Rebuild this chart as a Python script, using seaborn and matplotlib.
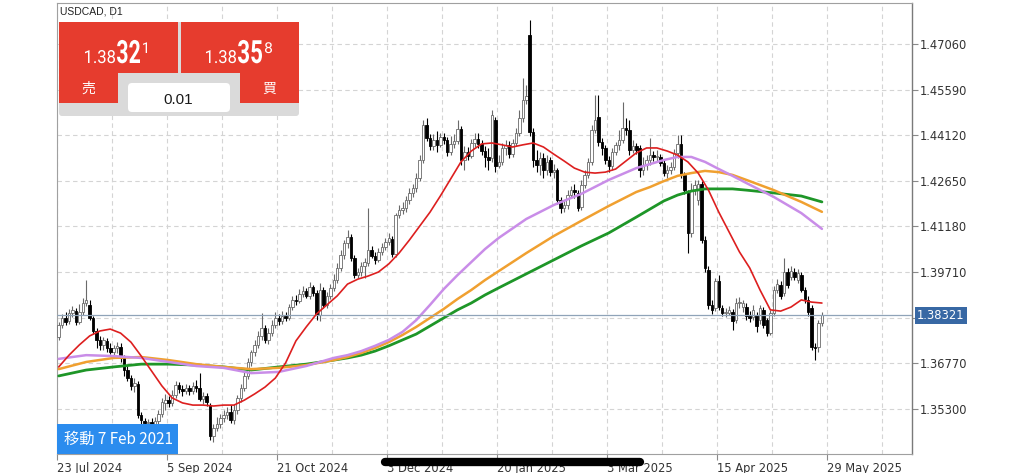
import numpy as np
import matplotlib
matplotlib.use("Agg")
import matplotlib.pyplot as plt
import seaborn as sns
from matplotlib.patches import Polygon, FancyBboxPatch, Rectangle, PathPatch
from matplotlib.textpath import TextPath
from matplotlib.font_manager import FontProperties
from matplotlib.transforms import Affine2D
from matplotlib.lines import Line2D

# ---------------- data (USDCAD daily) ----------------
opens = [
    1.3761, 1.3800, 1.3823, 1.3813, 1.3839, 1.3845, 1.3810, 1.3842, 1.3871, 1.3865,
    1.3823, 1.3781, 1.3752, 1.3736, 1.3749, 1.3726, 1.3713, 1.3726, 1.3729, 1.3694,
    1.3655, 1.3629, 1.3604, 1.3610, 1.3510, 1.3491, 1.3484, 1.3487, 1.3481, 1.3491,
    1.3513, 1.3549, 1.3558, 1.3549, 1.3575, 1.3607, 1.3594, 1.3587, 1.3597, 1.3587,
    1.3604, 1.3597, 1.3562, 1.3571, 1.3542, 1.3442, 1.3468, 1.3481, 1.3500, 1.3510,
    1.3520, 1.3494, 1.3526, 1.3565, 1.3597, 1.3636, 1.3681, 1.3713, 1.3736, 1.3765,
    1.3790, 1.3752, 1.3774, 1.3800, 1.3823, 1.3813, 1.3829, 1.3823, 1.3858, 1.3881,
    1.3878, 1.3900, 1.3910, 1.3894, 1.3923, 1.3903, 1.3832, 1.3913, 1.3865, 1.3894,
    1.3920, 1.3945, 1.3984, 1.4026, 1.4065, 1.4084, 1.4016, 1.3961, 1.3971, 1.3990,
    1.4000, 1.4042, 1.4023, 1.4010, 1.4036, 1.4052, 1.4068, 1.4077, 1.4029, 1.4155,
    1.4171, 1.4177, 1.4203, 1.4226, 1.4242, 1.4274, 1.4332, 1.4445, 1.4403, 1.4377,
    1.4397, 1.4381, 1.4406, 1.4397, 1.4358, 1.4384, 1.4393, 1.4432, 1.4332, 1.4358,
    1.4345, 1.4387, 1.4400, 1.4384, 1.4361, 1.4342, 1.4339, 1.4461, 1.4313, 1.4326,
    1.4371, 1.4381, 1.4351, 1.4387, 1.4419, 1.4468, 1.4526, 1.4735, 1.4422, 1.4332,
    1.4316, 1.4339, 1.4300, 1.4332, 1.4293, 1.4300, 1.4203, 1.4177, 1.4187, 1.4219,
    1.4235, 1.4226, 1.4181, 1.4252, 1.4284, 1.4326, 1.4429, 1.4471, 1.4390, 1.4371,
    1.4332, 1.4313, 1.4358, 1.4381, 1.4397, 1.4435, 1.4429, 1.4364, 1.4377, 1.4371,
    1.4300, 1.4316, 1.4332, 1.4348, 1.4342, 1.4342, 1.4323, 1.4290, 1.4300, 1.4310,
    1.4355, 1.4384, 1.4284, 1.4226, 1.4097, 1.4235, 1.4203, 1.4255, 1.4074, 1.3978,
    1.3865, 1.3855, 1.3942, 1.3855, 1.3839, 1.3839, 1.3842, 1.3816, 1.3871, 1.3858,
    1.3858, 1.3829, 1.3826, 1.3832, 1.3816, 1.3849, 1.3816, 1.3774, 1.3839, 1.3913,
    1.3929, 1.3903, 1.3971, 1.3955, 1.3971, 1.3945, 1.3961, 1.3913, 1.3881, 1.3855,
    1.3729, 1.3729, 1.3807,
]
highs = [
    1.3810, 1.3836, 1.3842, 1.3852, 1.3861, 1.3855, 1.3868, 1.3887, 1.3945, 1.3881,
    1.3829, 1.3790, 1.3765, 1.3761, 1.3758, 1.3742, 1.3736, 1.3745, 1.3742, 1.3703,
    1.3668, 1.3639, 1.3629, 1.3620, 1.3520, 1.3500, 1.3497, 1.3500, 1.3504, 1.3526,
    1.3565, 1.3578, 1.3571, 1.3591, 1.3620, 1.3616, 1.3607, 1.3610, 1.3607, 1.3616,
    1.3623, 1.3645, 1.3584, 1.3581, 1.3549, 1.3481, 1.3504, 1.3513, 1.3526, 1.3536,
    1.3542, 1.3546, 1.3575, 1.3610, 1.3649, 1.3694, 1.3720, 1.3752, 1.3781, 1.3839,
    1.3800, 1.3790, 1.3816, 1.3842, 1.3836, 1.3845, 1.3842, 1.3868, 1.3894, 1.3897,
    1.3916, 1.3926, 1.3920, 1.3939, 1.3929, 1.3913, 1.3936, 1.3923, 1.3907, 1.3932,
    1.3965, 1.4000, 1.4042, 1.4074, 1.4106, 1.4094, 1.4026, 1.3984, 1.4003, 1.4016,
    1.4177, 1.4055, 1.4036, 1.4048, 1.4065, 1.4081, 1.4097, 1.4087, 1.4161, 1.4187,
    1.4197, 1.4216, 1.4242, 1.4255, 1.4290, 1.4348, 1.4461, 1.4468, 1.4416, 1.4416,
    1.4426, 1.4419, 1.4419, 1.4406, 1.4410, 1.4416, 1.4461, 1.4442, 1.4377, 1.4374,
    1.4400, 1.4419, 1.4419, 1.4397, 1.4377, 1.4371, 1.4493, 1.4471, 1.4348, 1.4387,
    1.4397, 1.4393, 1.4400, 1.4435, 1.4493, 1.4597, 1.4574, 1.4784, 1.4435, 1.4364,
    1.4358, 1.4355, 1.4348, 1.4342, 1.4319, 1.4306, 1.4213, 1.4203, 1.4235, 1.4248,
    1.4255, 1.4235, 1.4268, 1.4300, 1.4339, 1.4445, 1.4542, 1.4542, 1.4403, 1.4381,
    1.4345, 1.4371, 1.4390, 1.4429, 1.4519, 1.4468, 1.4461, 1.4397, 1.4387, 1.4381,
    1.4342, 1.4348, 1.4403, 1.4361, 1.4364, 1.4351, 1.4332, 1.4316, 1.4326, 1.4368,
    1.4413, 1.4413, 1.4293, 1.4235, 1.4258, 1.4268, 1.4268, 1.4264, 1.4087, 1.3990,
    1.3881, 1.3952, 1.3961, 1.3865, 1.3855, 1.3861, 1.3852, 1.3887, 1.3890, 1.3881,
    1.3871, 1.3845, 1.3865, 1.3842, 1.3865, 1.3858, 1.3823, 1.3849, 1.3926, 1.3948,
    1.3942, 1.4016, 1.3984, 1.3990, 1.3984, 1.3981, 1.3971, 1.3923, 1.3894, 1.3865,
    1.3742, 1.3816, 1.3842,
]
lows = [
    1.3752, 1.3790, 1.3800, 1.3803, 1.3826, 1.3800, 1.3803, 1.3832, 1.3861, 1.3816,
    1.3771, 1.3726, 1.3720, 1.3720, 1.3713, 1.3707, 1.3700, 1.3710, 1.3681, 1.3636,
    1.3620, 1.3591, 1.3584, 1.3500, 1.3481, 1.3468, 1.3468, 1.3462, 1.3468, 1.3475,
    1.3504, 1.3526, 1.3536, 1.3539, 1.3565, 1.3581, 1.3571, 1.3578, 1.3575, 1.3578,
    1.3584, 1.3555, 1.3546, 1.3539, 1.3429, 1.3423, 1.3459, 1.3468, 1.3487, 1.3497,
    1.3484, 1.3481, 1.3513, 1.3552, 1.3587, 1.3626, 1.3668, 1.3700, 1.3726, 1.3752,
    1.3742, 1.3739, 1.3765, 1.3790, 1.3800, 1.3803, 1.3813, 1.3816, 1.3849, 1.3865,
    1.3871, 1.3890, 1.3887, 1.3884, 1.3894, 1.3816, 1.3813, 1.3855, 1.3855, 1.3884,
    1.3910, 1.3936, 1.3974, 1.4013, 1.4048, 1.4006, 1.3952, 1.3952, 1.3958, 1.3952,
    1.3990, 1.4016, 1.3997, 1.4003, 1.4026, 1.4042, 1.4058, 1.4019, 1.4019, 1.4145,
    1.4158, 1.4164, 1.4190, 1.4213, 1.4229, 1.4264, 1.4323, 1.4393, 1.4364, 1.4364,
    1.4358, 1.4374, 1.4384, 1.4345, 1.4348, 1.4371, 1.4384, 1.4316, 1.4300, 1.4332,
    1.4339, 1.4374, 1.4371, 1.4348, 1.4310, 1.4300, 1.4326, 1.4293, 1.4306, 1.4316,
    1.4348, 1.4339, 1.4342, 1.4377, 1.4410, 1.4455, 1.4513, 1.4410, 1.4310, 1.4293,
    1.4284, 1.4274, 1.4284, 1.4281, 1.4274, 1.4190, 1.4161, 1.4164, 1.4174, 1.4210,
    1.4210, 1.4168, 1.4171, 1.4242, 1.4274, 1.4316, 1.4419, 1.4377, 1.4348, 1.4319,
    1.4293, 1.4300, 1.4348, 1.4364, 1.4387, 1.4413, 1.4348, 1.4355, 1.4351, 1.4277,
    1.4284, 1.4300, 1.4316, 1.4329, 1.4329, 1.4313, 1.4281, 1.4274, 1.4287, 1.4300,
    1.4339, 1.4274, 1.4223, 1.4032, 1.4084, 1.4219, 1.4187, 1.4065, 1.3971, 1.3852,
    1.3836, 1.3845, 1.3849, 1.3829, 1.3826, 1.3832, 1.3784, 1.3807, 1.3855, 1.3842,
    1.3816, 1.3810, 1.3816, 1.3778, 1.3803, 1.3790, 1.3765, 1.3768, 1.3829, 1.3903,
    1.3884, 1.3894, 1.3920, 1.3945, 1.3945, 1.3936, 1.3907, 1.3871, 1.3829, 1.3720,
    1.3687, 1.3713, 1.3797,
]
closes = [
    1.3800, 1.3823, 1.3810, 1.3839, 1.3849, 1.3810, 1.3842, 1.3871, 1.3881, 1.3823,
    1.3781, 1.3752, 1.3736, 1.3752, 1.3726, 1.3713, 1.3726, 1.3733, 1.3694, 1.3655,
    1.3629, 1.3604, 1.3613, 1.3510, 1.3494, 1.3484, 1.3487, 1.3481, 1.3491, 1.3513,
    1.3552, 1.3558, 1.3549, 1.3575, 1.3607, 1.3594, 1.3587, 1.3597, 1.3587, 1.3604,
    1.3597, 1.3562, 1.3571, 1.3552, 1.3442, 1.3468, 1.3481, 1.3500, 1.3510, 1.3520,
    1.3494, 1.3526, 1.3565, 1.3597, 1.3636, 1.3681, 1.3713, 1.3736, 1.3765, 1.3790,
    1.3752, 1.3774, 1.3800, 1.3823, 1.3813, 1.3829, 1.3823, 1.3858, 1.3881, 1.3878,
    1.3900, 1.3910, 1.3894, 1.3923, 1.3903, 1.3832, 1.3913, 1.3865, 1.3894, 1.3920,
    1.3945, 1.3984, 1.4026, 1.4065, 1.4084, 1.4016, 1.3961, 1.3971, 1.3990, 1.4003,
    1.4042, 1.4023, 1.4010, 1.4036, 1.4052, 1.4068, 1.4081, 1.4029, 1.4155, 1.4171,
    1.4177, 1.4203, 1.4226, 1.4242, 1.4274, 1.4332, 1.4445, 1.4403, 1.4377, 1.4397,
    1.4381, 1.4406, 1.4397, 1.4358, 1.4384, 1.4393, 1.4432, 1.4332, 1.4358, 1.4345,
    1.4387, 1.4400, 1.4384, 1.4361, 1.4342, 1.4332, 1.4477, 1.4313, 1.4326, 1.4371,
    1.4381, 1.4351, 1.4387, 1.4419, 1.4468, 1.4526, 1.4538, 1.4422, 1.4332, 1.4316,
    1.4339, 1.4300, 1.4326, 1.4293, 1.4300, 1.4203, 1.4177, 1.4187, 1.4219, 1.4235,
    1.4229, 1.4177, 1.4252, 1.4284, 1.4326, 1.4429, 1.4461, 1.4390, 1.4371, 1.4332,
    1.4313, 1.4358, 1.4381, 1.4397, 1.4435, 1.4429, 1.4364, 1.4377, 1.4364, 1.4300,
    1.4316, 1.4332, 1.4348, 1.4342, 1.4345, 1.4323, 1.4290, 1.4300, 1.4310, 1.4355,
    1.4384, 1.4284, 1.4235, 1.4097, 1.4235, 1.4252, 1.4255, 1.4074, 1.3984, 1.3865,
    1.3849, 1.3942, 1.3858, 1.3839, 1.3842, 1.3849, 1.3813, 1.3871, 1.3874, 1.3871,
    1.3829, 1.3823, 1.3849, 1.3797, 1.3855, 1.3800, 1.3774, 1.3839, 1.3913, 1.3932,
    1.3894, 1.3971, 1.3929, 1.3974, 1.3955, 1.3968, 1.3913, 1.3884, 1.3842, 1.3729,
    1.3726, 1.3807, 1.38321,
]

# moving averages
ma_red_bars = list(range(0, 223, 3))
ma_red = [
    1.3665, 1.3703, 1.3736, 1.3765, 1.3781, 1.3787, 1.3774, 1.3745, 1.3700, 1.3652,
    1.3604, 1.3565, 1.3549, 1.3542, 1.3542, 1.3539, 1.3542, 1.3542, 1.3558, 1.3578,
    1.3600, 1.3629, 1.3678, 1.3749, 1.3794, 1.3836, 1.3865, 1.3894, 1.3932, 1.3948,
    1.3958, 1.3971, 1.3997, 1.4032, 1.4074, 1.4119, 1.4164, 1.4216, 1.4271, 1.4326,
    1.4361, 1.4384, 1.4387, 1.4381, 1.4374, 1.4381, 1.4387, 1.4374, 1.4351, 1.4329,
    1.4306, 1.4293, 1.4290, 1.4293, 1.4303, 1.4329, 1.4355, 1.4371, 1.4371, 1.4361,
    1.4348, 1.4326, 1.4290, 1.4235, 1.4164, 1.4100, 1.4036, 1.3984, 1.3913, 1.3849,
    1.3845, 1.3858, 1.3881, 1.3874, 1.3871,
]
ma_slow_bars = ([0, 8, 16, 24, 32, 40, 48, 56, 64, 72, 80]
                + [84, 88, 92, 96, 100, 104, 108, 112, 116, 120, 124, 128]
                + [136, 144, 152, 160, 168]
                + [172, 176, 180, 184, 188, 192, 196, 200]
                + [208, 216, 222])
ma_violet = [
    1.3691, 1.3703, 1.3700, 1.3694, 1.3681, 1.3668, 1.3662, 1.3645, 1.3649, 1.3668, 1.3694,
    1.3703, 1.3716, 1.3733, 1.3752, 1.3778, 1.3816, 1.3865, 1.3916, 1.3961, 1.4003, 1.4045, 1.4081,
    1.4142, 1.4187, 1.4223, 1.4268, 1.4306,
    1.4319, 1.4332, 1.4342, 1.4342, 1.4326, 1.4303, 1.4281, 1.4258,
    1.4213, 1.4161, 1.4110,
]
ma_orange = [
    1.3658, 1.3681, 1.3694, 1.3697, 1.3687, 1.3674, 1.3665, 1.3658, 1.3662, 1.3671, 1.3687,
    1.3697, 1.3710, 1.3726, 1.3745, 1.3768, 1.3794, 1.3823, 1.3852, 1.3884, 1.3913, 1.3945, 1.3974,
    1.4032, 1.4087, 1.4136, 1.4184, 1.4229,
    1.4245, 1.4264, 1.4281, 1.4290, 1.4297, 1.4293, 1.4284, 1.4268,
    1.4235, 1.4197, 1.4165,
]
ma_green = [
    1.3636, 1.3655, 1.3665, 1.3674, 1.3674, 1.3671, 1.3665, 1.3655, 1.3665, 1.3674, 1.3687,
    1.3694, 1.3703, 1.3716, 1.3733, 1.3752, 1.3771, 1.3797, 1.3823, 1.3849, 1.3871, 1.3897, 1.3920,
    1.3965, 1.4010, 1.4055, 1.4097, 1.4148,
    1.4174, 1.4200, 1.4219, 1.4232, 1.4239, 1.4239, 1.4239, 1.4235,
    1.4226, 1.4216, 1.4197,
]

x_tick_bars = [0, 32, 64, 96, 128, 160, 192, 224]
x_tick_labels = ["23 Jul 2024", "5 Sep 2024", "21 Oct 2024", "3 Dec 2024",
                 "20 Jan 2025", "3 Mar 2025", "15 Apr 2025", "29 May 2025"]
y_ticks = [1.35300, 1.36770, 1.38240, 1.39710, 1.41180, 1.42650, 1.44120, 1.45590, 1.47060]
y_tick_labels = ["1.35300", "1.36770", "", "1.39710", "1.41180", "1.42650",
                 "1.44120", "1.45590", "1.47060"]
bid_price = 1.38321
symbol_text = "USDCAD, D1"
sell_big, sell_sup = "32", "1"
buy_big, buy_sup = "35", "8"
price_head = "1.38"
lot_text = "0.01"
sell_label, buy_label = "売", "買"
goto_text = "移動 7 Feb 2021"

assert len(opens) == len(highs) == len(lows) == len(closes) == 223
assert len(ma_slow_bars) == len(ma_violet) == len(ma_orange) == len(ma_green)
assert len(ma_red_bars) == len(ma_red)

# ---------------- figure ----------------
sns.set_style("white")
plt.rcParams['font.family'] = ['DejaVu Sans']

W, H = 1024, 473
fig = plt.figure(figsize=(W / 100, H / 100), dpi=100)
fig.patch.set_facecolor("white")
ax = fig.add_axes([57 / W, 19 / H, 855 / W, 451 / H])
ax.set_facecolor("white")

o = np.array(opens); c = np.array(closes); h = np.array(highs); l = np.array(lows)
idx = np.arange(len(c))
up = c >= o
hi = np.maximum(h, np.maximum(o, c))
lo = np.minimum(l, np.minimum(o, c))
body_lo = np.minimum(o, c)
body_h = np.maximum(np.abs(c - o), 0.00010)

# grid
grid_kw = dict(color="#d4d4d4", lw=0.8, linestyle=(0, (4, 3)), zorder=0)
for t in y_ticks:
    ax.axhline(t, **grid_kw)
for b in range(0, 249, 16):
    ax.axvline(b - 0.5, **grid_kw)

# candles
ax.vlines(idx[up], lo[up], hi[up], color="#6a6a6a", lw=0.8, zorder=2)
ax.vlines(idx[~up], lo[~up], hi[~up], color="#000000", lw=0.8, zorder=2)
ax.bar(idx[up], body_h[up], bottom=body_lo[up], width=0.72, color="white",
       edgecolor="#6a6a6a", linewidth=0.6, zorder=3)
ax.bar(idx[~up], body_h[~up], bottom=body_lo[~up], width=0.72, color="black",
       edgecolor="black", linewidth=0.6, zorder=3)

# moving averages
sns.lineplot(x=ma_slow_bars, y=ma_green, ax=ax, color="#1e9628", linewidth=2.0, zorder=4)
sns.lineplot(x=ma_slow_bars, y=ma_orange, ax=ax, color="#f0a030", linewidth=1.8, zorder=4)
sns.lineplot(x=ma_slow_bars, y=ma_violet, ax=ax, color="#c98de8", linewidth=1.8, zorder=4)
sns.lineplot(x=ma_red_bars, y=ma_red, ax=ax, color="#dd1f1f", linewidth=1.2, zorder=5)

# bid line
ax.axhline(bid_price, color="#8fa3b8", lw=0.9, zorder=4)

ax.set_xlim(-0.5, 248.2)
ax.set_ylim(1.33843, 1.48383)

ax.yaxis.tick_right()
ax.set_yticks(y_ticks)
ax.set_yticklabels(y_tick_labels)
ax.set_xticks([b - 0.5 for b in x_tick_bars])
ax.set_xticklabels(x_tick_labels, ha="left")
ax.tick_params(axis="y", which="both", right=True, left=False, length=4, width=0.8,
               color="#8a8a8a", labelsize=8.3, labelcolor="#333333", pad=1.5)
ax.tick_params(axis="x", which="both", bottom=True, length=4, width=0.8,
               color="#8a8a8a", labelsize=8.3, labelcolor="#333333", pad=1.5)
ax.set_xlabel("")
ax.set_ylabel("")
for s in ["left", "top", "bottom"]:
    ax.spines[s].set_color("#a0a0a0")
    ax.spines[s].set_linewidth(0.8)
ax.spines["right"].set_color("#7a7a7a")
ax.spines["right"].set_linewidth(1.0)

# bid label on the price axis
ax.annotate("1.38321", xy=(1, bid_price), xycoords=("axes fraction", "data"),
            xytext=(5, 0), textcoords="offset pixels", va="center", ha="left",
            color="white", fontsize=8.3,
            bbox=dict(boxstyle="square,pad=0.18", fc="#3868a4", ec="none"))


# ---------------- trade panel (figure pixel coords) ----------------
def fx(x):
    return x / W


def fy(y):
    return 1 - y / H


def poly(pts, color, z):
    fig.add_artist(Polygon([(fx(x), fy(y)) for x, y in pts], closed=True,
                           transform=fig.transFigure, fc=color, ec="none", zorder=z))


def rbox(x0, y0, x1, y1, color, z, r=3):
    fig.add_artist(FancyBboxPatch((fx(x0), fy(y1)), (x1 - x0) / W, (y1 - y0) / H,
                                  boxstyle=f"round,pad=0,rounding_size={r / W}",
                                  mutation_aspect=W / H,
                                  transform=fig.transFigure, fc=color, ec="none", zorder=z))


def path_text(s, x_left, baseline, size, target_w, weight="normal", color="white", z=6):
    tp = TextPath((0, 0), s, size=size, prop=FontProperties(family="Roboto", weight=weight))
    ext = tp.get_extents()
    sx = target_w / ext.width
    tr = Affine2D().translate(-ext.x0, 0).scale(sx, 1).translate(x_left, H - baseline)
    fig.add_artist(PathPatch(tp, transform=tr, fc=color, ec="none", zorder=z))


RED = "#e63c2e"
rbox(59, 22, 299, 116, "#dadada", 2)
poly([(59, 22), (178, 22), (178, 73), (118, 73), (118, 103), (59, 103)], RED, 3)
poly([(181, 22), (299, 22), (299, 103), (240, 103), (240, 73), (181, 73)], RED, 3)
rbox(128, 83, 230, 112, "white", 4, r=4)

path_text(price_head, 85, 63, 18, 30, weight="normal")
path_text(sell_big, 117, 63, 32, 23, weight="bold")
path_text(sell_sup, 143, 53, 15, 4, weight="normal")
path_text(price_head, 206, 63, 18, 30, weight="normal")
path_text(buy_big, 238, 63, 32, 24, weight="bold")
path_text(buy_sup, 265, 53, 15, 7, weight="normal")

fig.text(fx(88.5), fy(89), sell_label, color="white", fontsize=10,
         family=["Noto Sans CJK JP", "DejaVu Sans"], ha="center", va="center", zorder=6)
fig.text(fx(269.5), fy(89), buy_label, color="white", fontsize=10,
         family=["Noto Sans CJK JP", "DejaVu Sans"], ha="center", va="center", zorder=6)
fig.text(fx(178), fy(99.5), lot_text, color="#1a1a1a", fontsize=11,
         family=["Liberation Sans", "DejaVu Sans"], ha="center", va="center", zorder=6)
fig.text(fx(60), fy(12), symbol_text, color="#222222", fontsize=7.5,
         family=["Liberation Sans", "DejaVu Sans"], ha="left", va="center", zorder=6)

# "go to date" button bottom-left
fig.add_artist(Rectangle((fx(57), fy(454)), 121 / W, 30 / H, transform=fig.transFigure,
                         fc="#2b8cee", ec="none", zorder=6))
fig.text(fx(64), fy(439), goto_text, color="white", fontsize=11,
         family=["Noto Sans CJK JP", "DejaVu Sans"], ha="left", va="center", zorder=7)

# black marker stroke over the date axis
fig.add_artist(Line2D([fx(385), fx(640)], [fy(461.5), fy(461.5)], transform=fig.transFigure,
                      color="black", lw=6, solid_capstyle="round", zorder=8))

fig.savefig("out.png", dpi=100, facecolor="white")
